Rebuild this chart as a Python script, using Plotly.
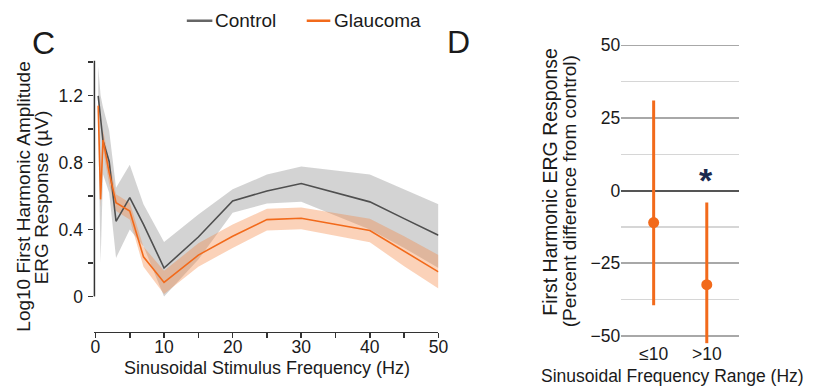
import plotly.graph_objects as go

# ---------------- data (panel C) ----------------
freq = [0.4, 0.75, 1.1, 2, 3, 5, 7, 10, 15, 20, 25, 30, 40, 45, 50]
ctrl_mean = [1.198, 1.06, 0.93, 0.806, 0.449, 0.59, 0.43, 0.17, 0.355, 0.57, 0.63, 0.675, 0.565, 0.465, 0.365]
ctrl_upper = [1.375, 1.20, 1.13, 0.99, 0.65, 0.786, 0.55, 0.325, 0.49, 0.64, 0.728, 0.776, 0.728, 0.64, 0.55]
ctrl_lower = [1.02, 0.20, 0.73, 0.62, 0.23, 0.40, 0.30, 0.00, 0.22, 0.50, 0.555, 0.565, 0.40, 0.29, 0.17]
glau_mean = [1.14, 0.58, 0.935, 0.74, 0.56, 0.51, 0.237, 0.084, 0.247, 0.36, 0.459, 0.467, 0.394, 0.27, 0.147]
glau_se = [0.05, 0.05, 0.06, 0.07, 0.05, 0.05, 0.06, 0.07, 0.07, 0.07, 0.065, 0.065, 0.07, 0.09, 0.10]

# ---------------- data (panel D) ----------------
ranges = ["≤10", ">10"]
pct_mean = [-11.0, -32.4]
pct_upper = [31.0, -4.1]
pct_lower = [-39.5, -52.5]

yticks_c = [0, 0.4, 0.8, 1.2]
yticklabels_c = ["0", "0.4", "0.8", "1.2"]
yminor_c = [0.2, 0.6, 1.0, 1.4]
xticks_c = [0, 10, 20, 30, 40, 50]
yticks_d = [-50, -25, 0, 25, 50]
yminor_d = [-37.5, -12.5, 12.5, 37.5]

W, H = 817, 391
FONT = "Liberation Sans, Arial, sans-serif"
TXT = "#1a1a1a"
ORANGE = "#f26a1b"
GREY_LINE = "#4f4f4f"

glau_up = [m + s for m, s in zip(glau_mean, glau_se)]
glau_lo = [m - s for m, s in zip(glau_mean, glau_se)]

fig = go.Figure()

# control band
fig.add_trace(go.Scatter(x=freq, y=ctrl_lower, mode="lines", line=dict(width=0),
                         hoverinfo="skip", showlegend=False, xaxis="x", yaxis="y"))
fig.add_trace(go.Scatter(x=freq, y=ctrl_upper, mode="lines", line=dict(width=0),
                         fill="tonexty", fillcolor="rgba(150,150,150,0.42)",
                         hoverinfo="skip", showlegend=False, xaxis="x", yaxis="y"))
# glaucoma band
fig.add_trace(go.Scatter(x=freq, y=glau_lo, mode="lines", line=dict(width=0),
                         hoverinfo="skip", showlegend=False, xaxis="x", yaxis="y"))
fig.add_trace(go.Scatter(x=freq, y=glau_up, mode="lines", line=dict(width=0),
                         fill="tonexty", fillcolor="rgba(245,130,60,0.36)",
                         hoverinfo="skip", showlegend=False, xaxis="x", yaxis="y"))
# mean lines
fig.add_trace(go.Scatter(x=freq, y=ctrl_mean, mode="lines", name="Control",
                         line=dict(color=GREY_LINE, width=1.6), showlegend=False,
                         xaxis="x", yaxis="y"))
fig.add_trace(go.Scatter(x=freq, y=glau_mean, mode="lines", name="Glaucoma",
                         line=dict(color=ORANGE, width=1.6), showlegend=False,
                         xaxis="x", yaxis="y"))

# panel D
xpos = list(range(len(ranges)))
fig.add_trace(go.Scatter(
    x=xpos, y=pct_mean, mode="markers",
    marker=dict(color=ORANGE, size=11),
    error_y=dict(type="data", symmetric=False,
                 array=[u - m for u, m in zip(pct_upper, pct_mean)],
                 arrayminus=[m - l for m, l in zip(pct_mean, pct_lower)],
                 color=ORANGE, thickness=3, width=0),
    showlegend=False, xaxis="x2", yaxis="y2"))

def px(xp):
    return xp / W

def py(yp):
    return 1 - yp / H

tickfont = dict(family=FONT, size=17.5, color=TXT)

fig.update_layout(
    width=W, height=H, margin=dict(l=0, r=0, t=0, b=0),
    paper_bgcolor="white", plot_bgcolor="white", hovermode=False,
    font=dict(family=FONT, color=TXT),
    xaxis=dict(domain=[px(92), px(442)], range=[-0.15, 50], showgrid=False, zeroline=False,
               showline=True, linecolor="#333", linewidth=1.5,
               tickvals=xticks_c, ticks="outside", ticklen=5, tickwidth=1.5, tickcolor="#333",
               minor=dict(dtick=5, tick0=0, ticks="outside", ticklen=5, tickwidth=1.5, tickcolor="#333"),
               tickfont=tickfont, ticklabelstandoff=-6),
    yaxis=dict(domain=[py(333), py(57.3)], range=[-0.2118, 1.41], showgrid=False, zeroline=False,
               showline=False, tickvals=yticks_c, ticktext=yticklabels_c,
               ticks="outside", ticklen=5, tickwidth=1.5, tickcolor="#333",
               minor=dict(tickvals=yminor_c, ticks="outside", ticklen=5, tickwidth=1.5, tickcolor="#333"),
               tickfont=tickfont, ticklabelstandoff=2),
    xaxis2=dict(domain=[px(628), px(748)], range=[-0.61, 1.61], showgrid=False, zeroline=False,
                showline=False, tickvals=xpos, ticktext=ranges, ticks="", tickfont=tickfont,
                ticklabelstandoff=-2),
    yaxis2=dict(domain=[py(345), py(36)], range=[-52.7, 52.03], anchor="x2",
                showgrid=True, gridcolor="#a8a8a8", gridwidth=1.5,
                zeroline=True, zerolinecolor="#555", zerolinewidth=1.8,
                showline=False, tickvals=yticks_d, ticks="",
                minor=dict(tickvals=yminor_d, showgrid=True, gridcolor="#d6d6d6", gridwidth=1.5),
                tickfont=tickfont),
)
fig.update_layout(xaxis2_anchor="y2")

shapes = [
    # left y axis line (stops at the top of the data range)
    dict(type="line", xref="x domain", yref="y", x0=0, x1=0, y0=0, y1=1.41,
         line=dict(color="#333", width=1.5)),
    # legend keys
    dict(type="line", xref="paper", yref="paper", x0=px(186), x1=px(212), y0=py(17), y1=py(17),
         line=dict(color="#666", width=2.5)),
    dict(type="line", xref="paper", yref="paper", x0=px(308), x1=px(332), y0=py(17), y1=py(17),
         line=dict(color=ORANGE, width=2.5)),
]
fig.update_layout(shapes=shapes)

ann = []
def add_text(x, y, text, size, angle=0, xanchor="center", color=TXT, bold=False):
    ann.append(dict(xref="paper", yref="paper", x=px(x), y=py(y), text=("<b>%s</b>" % text if bold else text),
                    showarrow=False, textangle=angle, xanchor=xanchor, yanchor="middle",
                    font=dict(family=FONT, size=size, color=color)))

add_text(213, 17, "Control", 19, xanchor="left")
add_text(334, 17, "Glaucoma", 19, xanchor="left")
add_text(40, 40, "C", 32)
add_text(462, 39, "D", 32)
add_text(267.5, 370, "Sinusoidal Stimulus Frequency (Hz)", 18)
add_text(20, 196, "Log10 First Harmonic Amplitude", 19, angle=-90)
add_text(39, 196, "ERG Response (µV)", 19, angle=-90)
add_text(680, 378, "Sinusoidal Frequency Range (Hz)", 17.5)
add_text(556, 180, "First Harmonic ERG Response", 19.5, angle=-90)
add_text(575, 190, "(Percent difference from control)", 19, angle=-90)
add_text(714, 179, "*", 34, color="#1b2a4e", bold=True)
fig.update_layout(annotations=ann)

fig.write_html("out.html",
               config={"displayModeBar": False, "responsive": False, "staticPlot": True},
               post_script="document.body.style.margin='0';document.body.style.padding='0';document.body.style.overflow='hidden';")
